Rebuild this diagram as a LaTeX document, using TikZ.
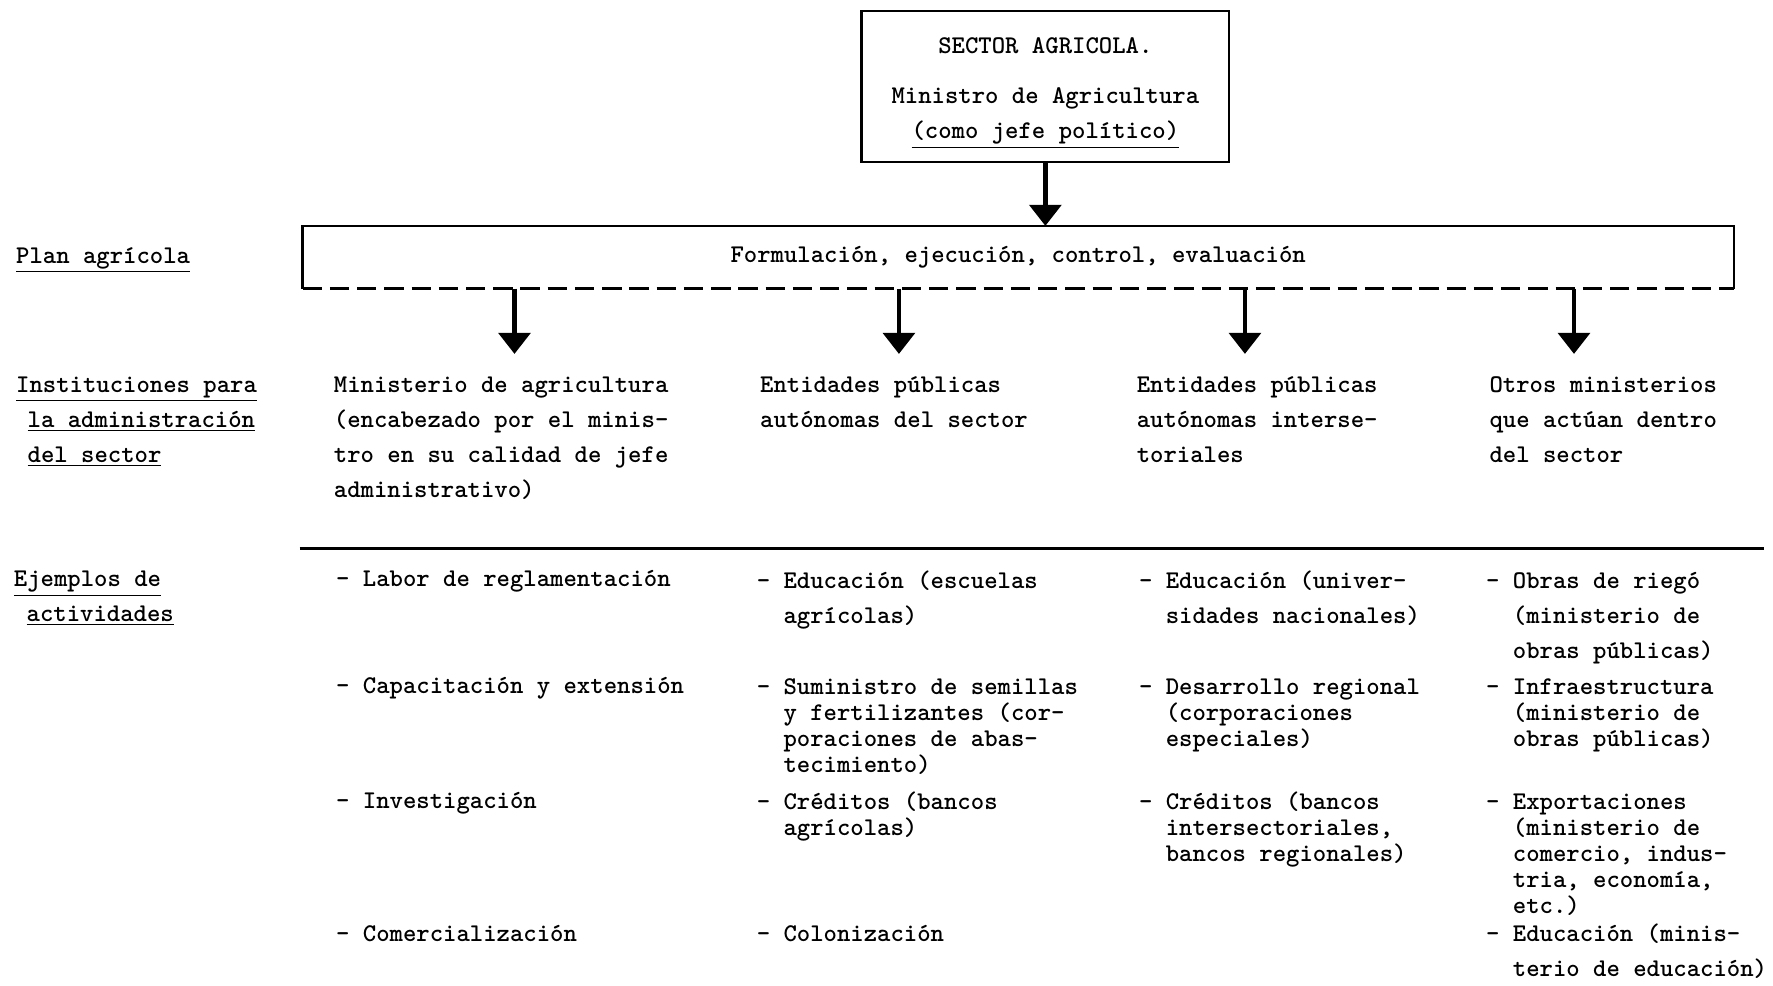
\documentclass[tikz,border=0pt]{standalone}
\usepackage{fontspec}
\usetikzlibrary{arrows.meta}

\newcommand{\maq}{\ttfamily\bfseries\fontsize{14.5pt}{19.9pt}\selectfont}
\newcommand{\maqj}{\ttfamily\bfseries\fontsize{14.5pt}{14.8pt}\selectfont}
\newcommand{\sang}{\hphantom{- }}

\begin{document}
\begin{tikzpicture}[x=0.022614cm,y=-0.022614cm,
   texto/.style={anchor=base west,inner sep=0pt,align=left,font=\maq},
   junto/.style={texto,font=\maqj},
   linea/.style={line width=1.3pt},
   flecha/.style={line width=2.6pt,-{Triangle[width=18pt,length=12pt]}}]
\useasboundingbox (0,0) rectangle (1568,872);

\node [draw,linea,minimum width=7.35cm,minimum height=3.01cm,align=center,font=\maq] (sector) at (924.5,76.5)
   {\rule{0pt}{16pt}SECTOR AGRICOLA.\\[9pt]Ministro de Agricultura\\\underline{(como jefe político)}};
\node [minimum width=28.61cm,minimum height=1.24cm,font=\maq] (plan) at (900.5,227.5)
   {Formulación, ejecución, control, evaluación};
\draw [linea] (plan.south west)--(plan.north west)--(plan.north east)--(plan.south east);
\draw [linea,dash pattern=on 11pt off 4.5pt] (plan.south west)--(plan.south east);
\draw [flecha] (sector.south)--(sector.south |- plan.north);

\coordinate (p1) at (455,313);
\coordinate (p2) at (795,313);
\coordinate (p3) at (1101,313);
\coordinate (p4) at (1392,313);
\draw [flecha] (plan.south -| p1)--(p1);
\draw [flecha] (plan.south -| p2)--(p2);
\draw [flecha] (plan.south -| p3)--(p3);
\draw [flecha] (plan.south -| p4)--(p4);

\node [texto] (planlbl) at (14,233) {\underline{Plan agrícola}};
\node [texto] (instlbl) at (14,409) {\underline{Instituciones para}\\\hspace*{0.45em}\underline{la administración}\\\hspace*{0.45em}\underline{del sector}};
\node [texto] (ejlbl) at (12,550) {\underline{Ejemplos de}\\\hspace*{0.5em}\underline{actividades}};

\node [texto] (inst1) at (295,440) {Ministerio de agricultura\\(encabezado por el minis-\\tro en su calidad de jefe\\administrativo)};
\node [texto] (inst2) at (672,378) {Entidades públicas\\autónomas del sector};
\node [texto] (inst3) at (1005,409) {Entidades públicas\\autónomas interse-\\toriales};
\node [texto] (inst4) at (1317,409) {Otros ministerios\\que actúan dentro\\del sector};

\coordinate (rayai) at (265,485);
\coordinate (rayad) at (1560,485);
\draw [linea] (rayai)--(rayad);

\node [texto] (a11) at (297,519) {- Labor de reglamentación};
\node [texto] (a12) at (297,613) {- Capacitación y extensión};
\node [texto] (a13) at (297,715) {- Investigación};
\node [texto] (a14) at (297,833) {- Comercialización};

\node [texto] (a21) at (669,551) {- Educación (escuelas\\\sang agrícolas)};
\node [junto] (a22) at (669,683) {- Suministro de semillas\\\sang y fertilizantes (cor-\\\sang poraciones de abas-\\\sang tecimiento)};
\node [junto] (a23) at (669,739) {- Créditos (bancos\\\sang agrícolas)};
\node [texto] (a24) at (669,833) {- Colonización};

\node [texto] (a31) at (1007,551) {- Educación (univer-\\\sang sidades nacionales)};
\node [junto] (a32) at (1007,660) {- Desarrollo regional\\\sang (corporaciones\\\sang especiales)};
\node [junto] (a33) at (1007,762) {- Créditos (bancos\\\sang intersectoriales,\\\sang bancos regionales)};

\node [texto] (a41) at (1314,582) {- Obras de riegó\\\sang (ministerio de\\\sang obras públicas)};
\node [junto] (a42) at (1314,660) {- Infraestructura\\\sang (ministerio de\\\sang obras públicas)};
\node [junto] (a43) at (1314,808) {- Exportaciones\\\sang (ministerio de\\\sang comercio, indus-\\\sang tria, economía,\\\sang etc.)};
\node [texto] (a44) at (1314,864) {- Educación (minis-\\\sang terio de educación)};

\end{tikzpicture}
\end{document}
